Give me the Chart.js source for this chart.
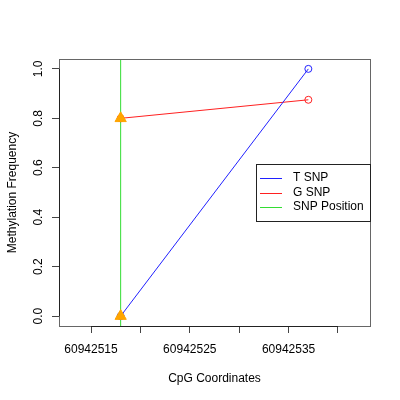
<!DOCTYPE html>
<html lang="en">
<head>
  <meta charset="UTF-8">
  <title>SNP methylation</title>
  <script src="https://cdn.jsdelivr.net/npm/chart.js"></script>
  <style>
    html, body { margin: 0; padding: 0; background: #fff; }
    #wrap { width: 400px; height: 400px; }
  </style>
</head>
<body>
  <div id="wrap"><canvas id="chart" width="400" height="400"></canvas></div>

  <script>
    // data
    const snpPos = 60942518;
    const cpgPos = [60942518, 60942537];
    const tSnp = [0.0, 1.0];
    const gSnp = [0.8, 0.875];
    const snpMarks = [0.8, 0.0];
    const xTicks = [60942515, 60942520, 60942525, 60942530, 60942535, 60942540];
    const xLabels = [60942515, 60942525, 60942535]; // R drops the ones that overlap
    const yTicks = [0.0, 0.2, 0.4, 0.6, 0.8, 1.0];
    const xLim = [60942511.76, 60942543.24];
    const yLim = [-0.04, 1.04];

    const font = { family: 'Liberation Sans, Arial, sans-serif', size: 12 };

    // box round the plot, axis lines + R style legend
    const boxPlugin = {
      id: 'box',
      afterDraw(chart) {
        const ctx = chart.ctx;
        const a = chart.chartArea;
        const sx = chart.scales.x, sy = chart.scales.y;
        ctx.save();
        ctx.lineWidth = 1;
        ctx.strokeStyle = '#666';
        ctx.strokeRect(a.left + 0.5, a.top + 0.5, a.right - a.left, a.bottom - a.top);

        // axis lines between first and last tick
        ctx.strokeStyle = '#222';
        ctx.beginPath();
        ctx.moveTo(a.left + 0.5, sy.getPixelForValue(yTicks[0]));
        ctx.lineTo(a.left + 0.5, sy.getPixelForValue(yTicks[yTicks.length - 1]));
        ctx.moveTo(sx.getPixelForValue(xTicks[0]), a.bottom + 0.5);
        ctx.lineTo(sx.getPixelForValue(xTicks[xTicks.length - 1]), a.bottom + 0.5);
        ctx.stroke();

        // legend
        const items = chart.data.datasets.filter(d => d.inLegend);
        const lx = 256, ly = 164, lw = a.right - 256, lh = 57;
        ctx.fillStyle = '#fff';
        ctx.fillRect(lx, ly, lw, lh);
        ctx.strokeStyle = '#222';
        ctx.strokeRect(lx + 0.5, ly + 0.5, lw, lh);
        ctx.font = '12px ' + font.family;
        ctx.textBaseline = 'middle';
        items.forEach((d, i) => {
          const y = 178 + i * 14.5;
          ctx.strokeStyle = d.borderColor;
          ctx.beginPath();
          ctx.moveTo(260, Math.round(y) + 0.5);
          ctx.lineTo(282, Math.round(y) + 0.5);
          ctx.stroke();
          ctx.fillStyle = '#000';
          ctx.fillText(d.label, 293, y);
        });
        ctx.restore();
      }
    };

    new Chart(document.getElementById('chart'), {
      type: 'scatter',
      data: {
        datasets: [
          {
            label: 'SNP marker',
            data: snpMarks.map(v => ({ x: snpPos, y: v })),
            pointStyle: 'triangle',
            pointRadius: 6.5,
            backgroundColor: '#FFA500',
            borderColor: '#FFA500',
            showLine: false,
            order: 0
          },
          {
            label: 'T SNP',
            inLegend: true,
            data: cpgPos.map((x, i) => ({ x: x, y: tSnp[i] })),
            borderColor: '#2020FF',
            backgroundColor: 'rgba(0,0,0,0)',
            borderWidth: 1,
            pointRadius: 3.5,
            pointBorderWidth: 1,
            showLine: true,
            order: 1
          },
          {
            label: 'G SNP',
            inLegend: true,
            data: cpgPos.map((x, i) => ({ x: x, y: gSnp[i] })),
            borderColor: '#FF2020',
            backgroundColor: 'rgba(0,0,0,0)',
            borderWidth: 1,
            pointRadius: 3.5,
            pointBorderWidth: 1,
            showLine: true,
            order: 2
          },
          {
            label: 'SNP Position',
            inLegend: true,
            data: yLim.map(v => ({ x: snpPos, y: v })),
            borderColor: '#33DD33',
            backgroundColor: '#33DD33',
            borderWidth: 1,
            pointRadius: 0,
            showLine: true,
            order: 3
          }
        ]
      },
      options: {
        responsive: false,
        animation: false,
        layout: { padding: { left: 0, top: 59, right: 30, bottom: 0 } },
        plugins: {
          legend: { display: false },
          tooltip: { enabled: false }
        },
        scales: {
          x: {
            type: 'linear',
            min: xLim[0],
            max: xLim[1],
            afterFit(s) { s.height = 74; },
            afterBuildTicks(s) { s.ticks = xTicks.map(v => ({ value: v })); },
            grid: { drawOnChartArea: false, tickLength: 7, color: '#444' },
            border: { display: false },
            ticks: {
              font: font,
              color: '#000',
              padding: 9,
              maxRotation: 0,
              autoSkip: false,
              callback: v => xLabels.includes(v) ? String(v) : ''
            },
            title: {
              display: true,
              text: 'CpG Coordinates',
              font: font,
              color: '#000',
              padding: { top: 0, bottom: 14 }
            }
          },
          y: {
            type: 'linear',
            min: yLim[0],
            max: yLim[1],
            afterFit(s) { s.width = 59; },
            afterBuildTicks(s) { s.ticks = yTicks.map(v => ({ value: v })); },
            grid: { drawOnChartArea: false, tickLength: 7, color: '#444' },
            border: { display: false },
            ticks: {
              font: font,
              color: '#000',
              padding: 5,
              minRotation: 90,
              maxRotation: 90,
              crossAlign: 'center',
              callback: v => v.toFixed(1)
            },
            title: {
              display: true,
              text: 'Methylation Frequency',
              font: font,
              color: '#000',
              padding: { top: 5, bottom: 0 }
            }
          }
        }
      },
      plugins: [boxPlugin]
    });
  </script>
</body>
</html>
